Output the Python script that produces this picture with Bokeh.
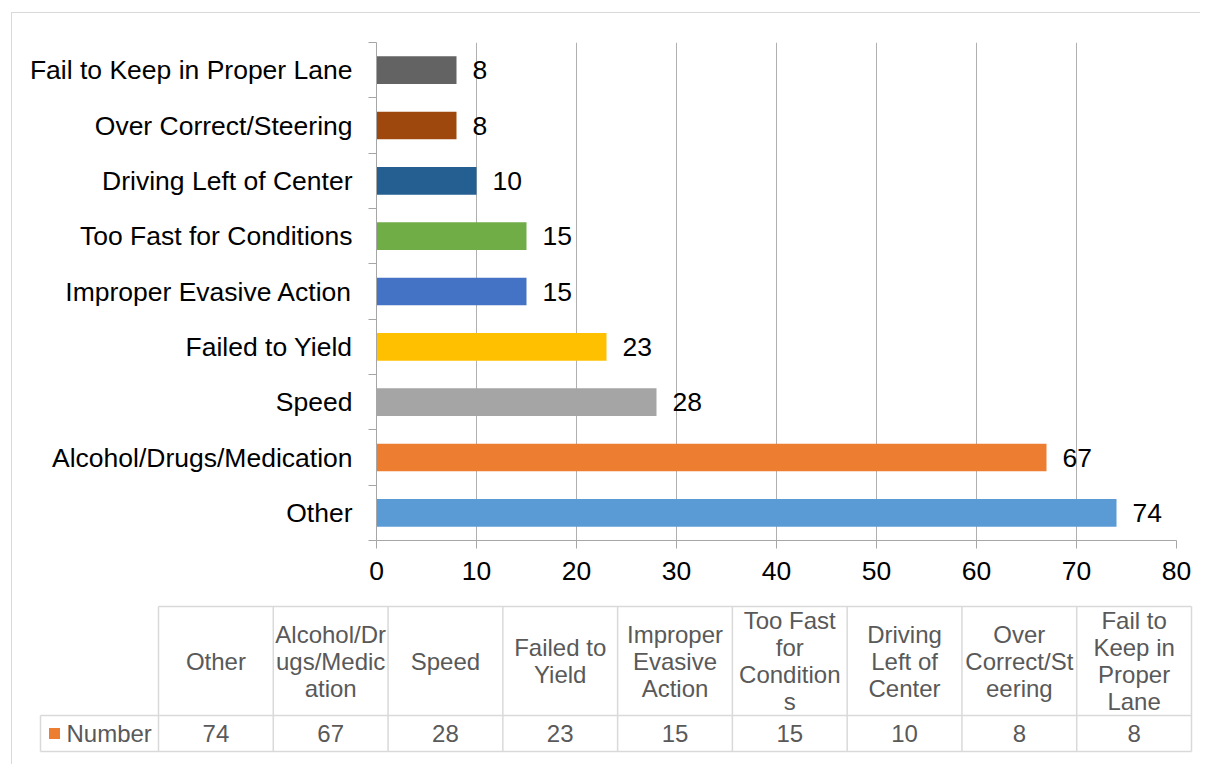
from bokeh.plotting import figure
from bokeh.models import Range1d, FixedTicker, ColumnDataSource
from bokeh.layouts import column
from bokeh.embed import file_html
from bokeh.resources import INLINE
from bokeh.core.properties import value

# ---------------- data ----------------
categories = ["Other", "Alcohol/Drugs/Medication", "Speed", "Failed to Yield",
              "Improper Evasive Action", "Too Fast for Conditions",
              "Driving Left of Center", "Over Correct/Steering",
              "Fail to Keep in Proper Lane"]
counts = [74, 67, 28, 23, 15, 15, 10, 8, 8]
bar_colors = ["#5B9BD5", "#ED7D31", "#A5A5A5", "#FFC000", "#4472C4",
              "#70AD47", "#255E91", "#9E480E", "#636363"]
table_headers = ["Other", "Alcohol/Dr\nugs/Medic\nation", "Speed", "Failed to\nYield",
                 "Improper\nEvasive\nAction", "Too Fast\nfor\nCondition\ns",
                 "Driving\nLeft of\nCenter", "Over\nCorrect/St\neering",
                 "Fail to\nKeep in\nProper\nLane"]
series_name = "Number"
series_color = "#ED7D31"
x_ticks = [0, 10, 20, 30, 40, 50, 60, 70, 80]

FONT = "Liberation Sans"
AXIS_GRAY = "#a6a6a6"
GRID_GRAY = "#b0b0b0"
TABLE_LINE = "#d9d9d9"
TABLE_TEXT = "#595959"
BORDER = "#d9d9d9"

n = len(categories)
centers = [i + 0.5 for i in range(n)]
W = 1200

# ---------------- bar chart ----------------
p = figure(width=W, height=600, x_range=Range1d(0, 80), y_range=Range1d(0, n),
           output_backend="svg", toolbar_location=None,
           min_border_left=376, min_border_right=W - 1176, min_border_top=42, min_border_bottom=60)
p.frame_align = False
p.outline_line_color = None
p.background_fill_color = "white"
p.border_fill_color = None
p.styles = {"box-shadow": f"inset 11px 12px 0 0 white, inset 12px 13px 0 0 {BORDER}"}

src = ColumnDataSource(dict(y=centers, v=counts, c=bar_colors,
                            lab=[str(v) for v in counts]))
p.hbar(y="y", left=0, right="v", height=0.5, fill_color="c", line_color=None, source=src)
p.text(x="v", y="y", text="lab", x_offset=16, text_align="left", text_baseline="middle",
       text_font=value(FONT), text_font_size="26.5px", text_color="black", source=src)

p.ygrid.visible = False
p.xgrid.ticker = FixedTicker(ticks=x_ticks)
p.xgrid.grid_line_color = GRID_GRAY
p.xgrid.grid_line_width = 1

xa = p.xaxis[0]
xa.ticker = FixedTicker(ticks=x_ticks)
xa.axis_line_color = AXIS_GRAY
xa.major_tick_line_color = AXIS_GRAY
xa.major_tick_out = 8
xa.major_tick_in = 0
xa.minor_tick_line_color = None
xa.minor_tick_out = 0
xa.major_label_standoff = 13
xa.major_label_text_font = FONT
xa.major_label_text_font_size = "26.5px"
xa.major_label_text_color = "black"

ya = p.yaxis[0]
ya.ticker = FixedTicker(ticks=centers, minor_ticks=list(range(n + 1)))
ya.major_label_overrides = {c: name for c, name in zip(centers, categories)}
ya.axis_line_color = AXIS_GRAY
ya.major_tick_line_color = None
ya.major_tick_out = 0
ya.major_tick_in = 0
ya.minor_tick_line_color = AXIS_GRAY
ya.minor_tick_out = 8
ya.minor_tick_in = 0
ya.major_label_standoff = 16
ya.major_label_text_font = FONT
ya.major_label_text_font_size = "26.5px"
ya.major_label_text_color = "black"

# ---------------- data table ----------------
t = figure(width=W, height=164, x_range=Range1d(0, W), y_range=Range1d(764, 600),
           output_backend="svg", toolbar_location=None, min_border=0,
           x_axis_type=None, y_axis_type=None)
t.frame_align = False
t.grid.visible = False
t.outline_line_color = None
t.background_fill_color = None
t.border_fill_color = None
t.styles = {"box-shadow": f"inset 11px 0 0 0 white, inset 12px 0 0 0 {BORDER}"}

tbl_left, tbl_right = 158, 1191
legend_left = 40
hdr_top, hdr_bot, row_bot = 606, 715, 751
col_w = (tbl_right - tbl_left) / n
col_edges = [tbl_left + k * col_w for k in range(n + 1)]
col_centers = [tbl_left + (k + 0.5) * col_w for k in range(n)]

t.segment(x0=[tbl_left, legend_left, legend_left], y0=[hdr_top, hdr_bot, row_bot],
          x1=[tbl_right, tbl_right, tbl_right], y1=[hdr_top, hdr_bot, row_bot],
          line_color=TABLE_LINE, line_width=1.5)
t.segment(x0=col_edges, y0=[hdr_top] * len(col_edges), x1=col_edges, y1=[row_bot] * len(col_edges),
          line_color=TABLE_LINE, line_width=1.5)
t.segment(x0=[legend_left], y0=[hdr_bot], x1=[legend_left], y1=[row_bot],
          line_color=TABLE_LINE, line_width=1.5)

t.text(x=col_centers, y=[(hdr_top + hdr_bot) / 2] * n, text=table_headers,
       text_align="center", text_baseline="middle", text_line_height=1.0,
       text_font=value(FONT), text_font_size="24px", text_color=TABLE_TEXT)
t.text(x=col_centers, y=[(hdr_bot + row_bot) / 2] * n, text=[str(v) for v in counts],
       text_align="center", text_baseline="middle",
       text_font=value(FONT), text_font_size="24px", text_color=TABLE_TEXT)
t.scatter(x=[legend_left + 14], y=[(hdr_bot + row_bot) / 2], marker="square", size=11,
          fill_color=series_color, line_color=None)
t.text(x=[legend_left + 26], y=[(hdr_bot + row_bot) / 2], text=[series_name],
       text_align="left", text_baseline="middle",
       text_font=value(FONT), text_font_size="24px", text_color=TABLE_TEXT)

layout = column(p, t)

open("out.html", "w").write(file_html(layout, INLINE))
